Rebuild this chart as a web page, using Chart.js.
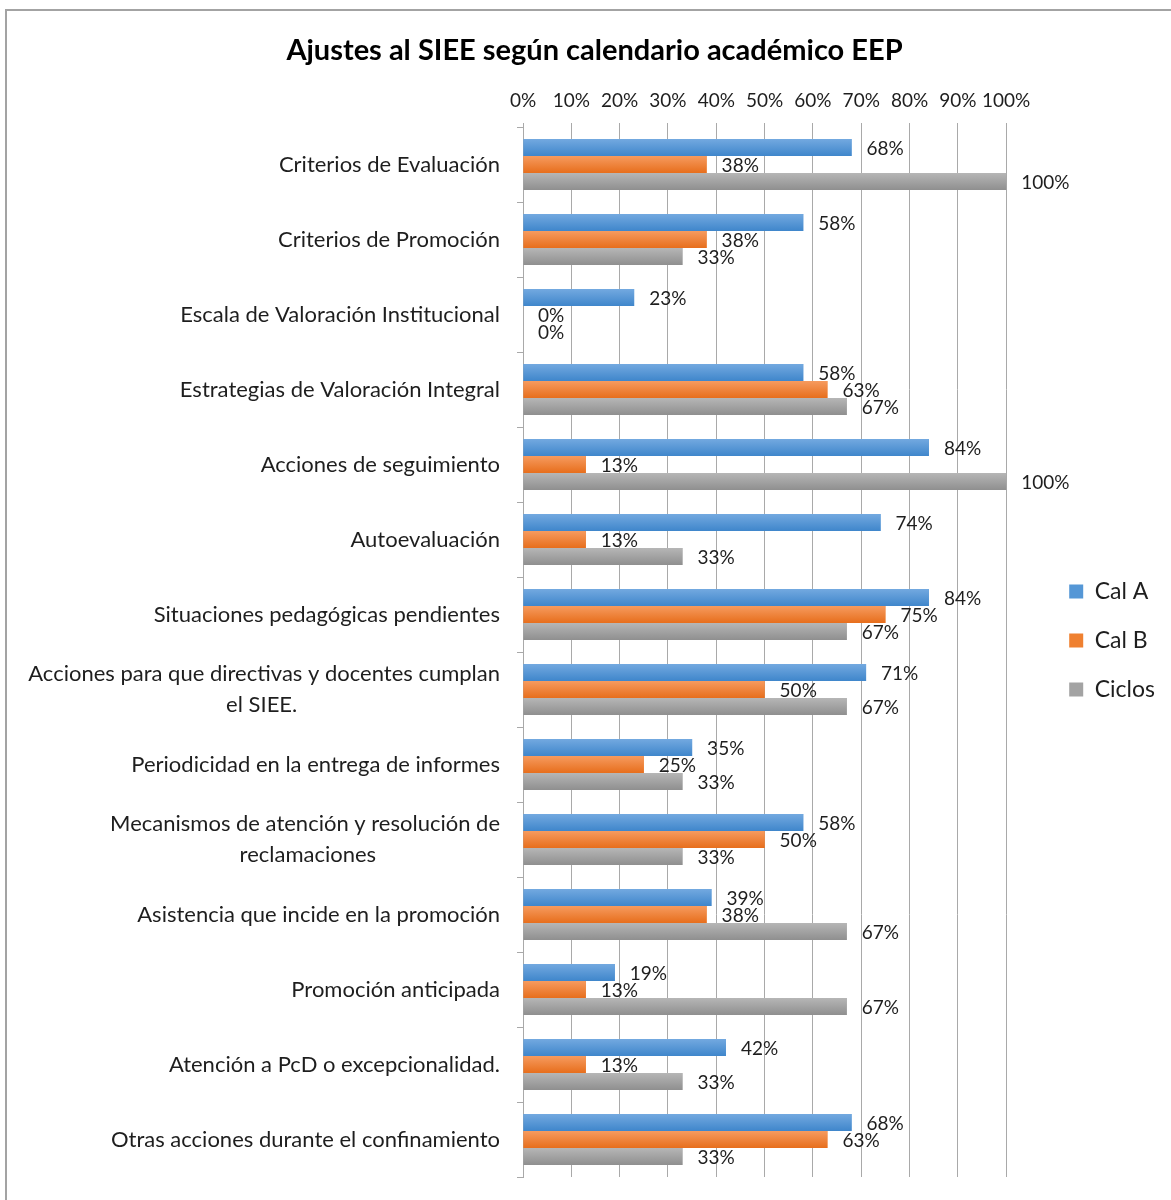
<!DOCTYPE html>
<html>
<head>
<meta charset="utf-8">
<script src="https://cdn.jsdelivr.net/npm/chart.js@4.4.1/dist/chart.umd.min.js"></script>
<style>
  html, body { margin: 0; padding: 0; background: #fff; }
  #wrap { position: relative; width: 1171px; height: 1200px; overflow: hidden; }
  #frame { position: absolute; left: 5px; top: 9px; width: 1200px; height: 1230px;
           border-left: 2px solid #a3a3a3; border-top: 2px solid #a3a3a3; }
  canvas { position: absolute; left: 0; top: 0; }
</style>
</head>
<body>
<div id="wrap">
  <div id="frame"></div>
  <canvas id="chart" width="1171" height="1200"></canvas>
</div>
<script>
const chartTitle = 'Ajustes al SIEE según calendario académico EEP';

const categories = [
    'Criterios de Evaluación',
    'Criterios de Promoción',
    'Escala de Valoración Institucional',
    'Estrategias de Valoración Integral',
    'Acciones de seguimiento',
    'Autoevaluación',
    'Situaciones pedagógicas pendientes',
    ['Acciones para que directivas y docentes cumplan', 'el SIEE.'],
    'Periodicidad en la entrega de informes',
    ['Mecanismos de atención y resolución de', 'reclamaciones'],
    'Asistencia que incide en la promoción',
    'Promoción anticipada',
    'Atención a PcD o excepcionalidad.',
    'Otras acciones durante el confinamiento'
];

const seriesNames = ['Cal A', 'Cal B', 'Ciclos'];
const calA = [68, 58, 23, 58, 84, 74, 84, 71, 35, 58, 39, 19, 42, 68];
const calB = [38, 38, 0, 63, 13, 13, 75, 50, 25, 50, 38, 13, 13, 63];
const ciclos = [100, 33, 0, 67, 100, 33, 67, 67, 33, 33, 67, 67, 33, 33];

const xTickLabels = ['0%', '10%', '20%', '30%', '40%', '50%', '60%', '70%', '80%', '90%', '100%'];

// solid colour + top/bottom shades for the office-style gradient
const fills = ['#5597d6', '#ef8030', '#a3a3a3'];
const shades = [['#73a9e0', '#3f86cb'], ['#f69b5f', '#e76e1c'], ['#b6b6b6', '#8f8f8f']];

const FONT = 'Lato, "Open Sans", sans-serif';
const gridColor = '#a9a9a9';
const textColor = '#1e1e1e';

// pad shorter lines so they look centred under a right-aligned label
function centerLines(label, font) {
    if (!Array.isArray(label)) return label;
    const ctx = document.createElement('canvas').getContext('2d');
    ctx.font = font;
    const widths = label.map((l) => ctx.measureText(l).width);
    const max = Math.max(...widths);
    const sp = ctx.measureText('\u00a0').width;
    return label.map((l, i) => l + '\u00a0'.repeat(Math.round((max - widths[i]) / 2 / sp)));
}

// let the long category labels run into the left padding instead of being clipped
const unclipLabels = {
    id: 'unclipLabels',
    afterLayout(chart) {
        chart.scales.y.left = 0;
    }
};

const barGradient = {
    id: 'barGradient',
    afterDatasetsDraw(chart) {
        const ctx = chart.ctx;
        chart.data.datasets.forEach((ds, di) => {
            const meta = chart.getDatasetMeta(di);
            meta.data.forEach((bar) => {
                const p = bar.getProps(['x', 'y', 'base', 'height'], true);
                const w = p.x - p.base;
                if (w <= 0) return;
                const top = p.y - p.height / 2;
                const g = ctx.createLinearGradient(0, top, 0, top + p.height);
                g.addColorStop(0, shades[di][0]);
                g.addColorStop(1, shades[di][1]);
                ctx.save();
                ctx.fillStyle = g;
                ctx.fillRect(p.base, top, w, p.height);
                ctx.restore();
            });
        });
    }
};

const valueLabels = {
    id: 'valueLabels',
    afterDatasetsDraw(chart) {
        const ctx = chart.ctx;
        ctx.save();
        ctx.font = '19px ' + FONT;
        ctx.fillStyle = textColor;
        ctx.textAlign = 'left';
        ctx.textBaseline = 'middle';
        chart.data.datasets.forEach((ds, di) => {
            const meta = chart.getDatasetMeta(di);
            meta.data.forEach((bar, i) => {
                const p = bar.getProps(['x', 'y'], true);
                ctx.fillText(ds.data[i] + '%', p.x + 15, p.y + 1);
            });
        });
        ctx.restore();
    }
};

const catFont = '22px ' + FONT;

new Chart(document.getElementById('chart'), {
    type: 'bar',
    data: {
        labels: categories.map((c) => centerLines(c, catFont)),
        datasets: [
            {label: seriesNames[0], data: calA, backgroundColor: fills[0]},
            {label: seriesNames[1], data: calB, backgroundColor: fills[1]},
            {label: seriesNames[2], data: ciclos, backgroundColor: fills[2]}
        ]
    },
    options: {
        indexAxis: 'y',
        responsive: false,
        animation: false,
        events: [],
        categoryPercentage: 0.68,
        barPercentage: 1,
        layout: {padding: {left: 24, right: 6, top: 0, bottom: 23}},
        plugins: {
            title: {
                display: true,
                text: chartTitle,
                color: '#000',
                font: {family: FONT, size: 29, weight: 'bold', lineHeight: 1.2},
                padding: {top: 33, bottom: 0}
            },
            legend: {
                position: 'right',
                title: {display: true, text: ' ', font: {size: 10}, padding: {top: 0, bottom: 92}},
                labels: {
                    boxWidth: 14,
                    boxHeight: 14,
                    padding: 26,
                    color: textColor,
                    font: {family: FONT, size: 23}
                }
            },
            tooltip: {enabled: false}
        },
        scales: {
            x: {
                position: 'top',
                min: 0,
                max: 100,
                ticks: {
                    stepSize: 10,
                    padding: 11,
                    maxRotation: 0,
                    minRotation: 0,
                    autoSkip: false,
                    color: textColor,
                    font: {family: FONT, size: 19},
                    callback: (v, i) => xTickLabels[i]
                },
                grid: {color: gridColor, tickLength: 4},
                border: {display: false},
                afterFit: (s) => { s.height = 127 - 33 - 34.8; s.paddingLeft = 0; s.paddingRight = 0; }
            },
            y: {
                ticks: {
                    padding: 17,
                    color: textColor,
                    font: {family: FONT, size: 22, lineHeight: 1.4}
                },
                grid: {drawOnChartArea: false, color: gridColor, tickLength: 6},
                border: {color: gridColor},
                afterFit: (s) => { s.width = 523 - 24; s.paddingTop = 0; s.paddingBottom = 0; }
            },
            gap: {
                type: 'linear',
                position: 'right',
                display: true,
                ticks: {display: false},
                grid: {display: false},
                border: {display: false},
                afterFit: (s) => { s.width = 37; s.paddingTop = 0; s.paddingBottom = 0; }
            }
        }
    },
    plugins: [unclipLabels, barGradient, valueLabels]
});
</script>
</body>
</html>
